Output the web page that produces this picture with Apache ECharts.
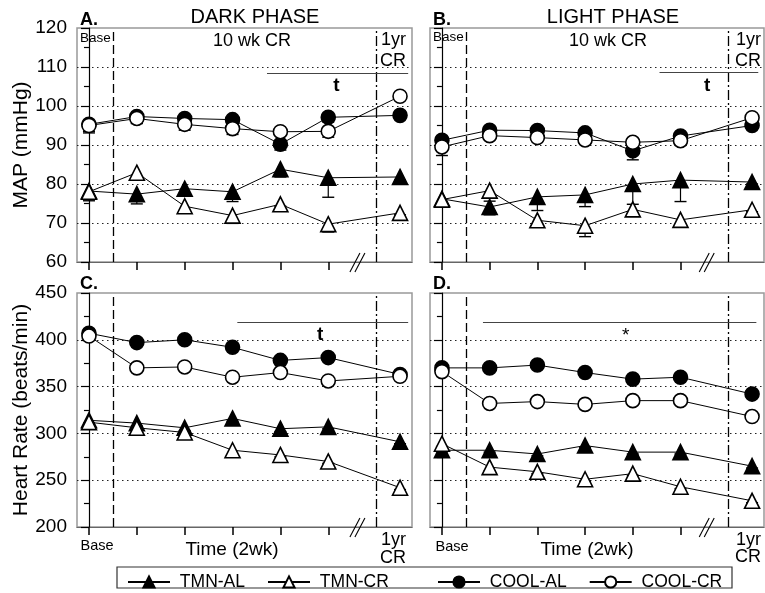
<!DOCTYPE html>
<html>
<head>
<meta charset="utf-8">
<script src="https://cdn.jsdelivr.net/npm/echarts@6/dist/echarts.min.js"></script>
<style>
html,body{margin:0;padding:0;background:#fff;}
#chart{width:765px;height:593px;}
</style>
</head>
<body>
<div id="chart"></div>
<script>
var FONT = '"Liberation Sans", Arial, Helvetica, sans-serif';

// x positions: base, 5 biweekly points, 1yr
var xPos = [0, 1, 2, 3, 4, 5, 6.5];
var tickPos = [0, 1, 2, 3, 4, 5];
var seriesNames = ['TMN-AL', 'TMN-CR', 'COOL-AL', 'COOL-CR'];

// A. MAP dark phase
var mapDarkTmnAl = [78.2, 77.4, 78.8, 78.0, 83.8, 81.6, 81.8];
var mapDarkTmnAlErr = [2.5, 2.5, 1.2, 2.5, 2.0, 5.0, 0.8];
var mapDarkTmnCr = [78.0, 82.9, 74.3, 71.9, 74.8, 69.7, 72.6];
var mapDarkTmnCrErr = [1.5, 1.5, 1.5, 2.0, 0.5, 2.0, 0.5];
var mapDarkCoolAl = [95.3, 97.3, 96.8, 96.5, 90.2, 97.1, 97.6];
var mapDarkCoolAlErr = [2.2, 1.8, 1.5, 1.5, 1.5, 1.2, 1.0];
var mapDarkCoolCr = [95.0, 96.8, 95.3, 94.2, 93.4, 93.5, 102.5];
var mapDarkCoolCrErr = [1.5, 1.2, 1.5, 1.5, 0.5, 1.5, 0.5];

// B. MAP light phase
var mapLightTmnAl = [76.2, 74.1, 76.7, 77.2, 80.0, 81.0, 80.5];
var mapLightTmnAlErr = [2.0, 2.0, 3.5, 3.0, 5.2, 5.5, 0.5];
var mapLightTmnCr = [76.0, 78.3, 70.7, 69.3, 73.5, 70.8, 73.4];
var mapLightTmnCrErr = [1.0, 2.7, 1.0, 2.8, 1.0, 1.5, 0.5];
var mapLightCoolAl = [91.2, 93.8, 93.7, 93.1, 88.5, 92.3, 95.0];
var mapLightCoolAlErr = [1.0, 1.0, 1.0, 1.0, 2.3, 1.0, 0.5];
var mapLightCoolCr = [89.5, 92.4, 91.9, 91.3, 90.7, 91.1, 97.0];
var mapLightCoolCrErr = [2.2, 1.0, 1.0, 1.0, 0.5, 1.2, 0.5];

// C. heart rate dark phase
var hrDarkTmnAl = [314, 311, 306, 316, 305, 307, 291];
var hrDarkTmnAlErr = [3, 3, 3, 3, 3, 2, 2];
var hrDarkTmnCr = [312, 306, 301, 282, 277, 270, 242];
var hrDarkTmnCrErr = [3, 3, 7, 5, 2, 2, 2];
var hrDarkCoolAl = [407, 397, 400, 392, 378, 381, 363];
var hrDarkCoolAlErr = [3, 3, 3, 3, 3, 2, 2];
var hrDarkCoolCr = [404, 370, 371, 360, 365, 356, 361];
var hrDarkCoolCrErr = [2, 3, 4, 2, 3, 2, 2];

// D. heart rate light phase
var hrLightTmnAl = [282, 282, 278, 287, 280, 280, 265];
var hrLightTmnAlErr = [3, 2, 2, 2, 2, 2, 2];
var hrLightTmnCr = [289, 264, 259, 251, 257, 243, 228];
var hrLightTmnCrErr = [3, 4, 2, 2, 2, 2, 2];
var hrLightCoolAl = [370, 370, 373, 365, 358, 360, 342];
var hrLightCoolAlErr = [3, 3, 3, 3, 2, 2, 2];
var hrLightCoolCr = [366, 332, 334, 331, 335, 335, 318];
var hrLightCoolCrErr = [3, 2, 2, 2, 2, 2, 2];

var chart = echarts.init(document.getElementById('chart'));

var grids = [
    {left: 77, top: 28, width: 335, height: 234},
    {left: 430, top: 28, width: 334, height: 234},
    {left: 77, top: 293, width: 335, height: 234},
    {left: 430, top: 293, width: 334, height: 234}
];

function pts(vals) {
    return xPos.map(function (x, i) { return [x, vals[i]]; });
}

function errSeries(gi, vals, errs) {
    return {
        type: 'custom', xAxisIndex: gi, yAxisIndex: gi, silent: true, z: 1,
        data: xPos.map(function (x, i) { return [x, vals[i], vals[i] - errs[i]]; }),
        renderItem: function (params, api) {
            var top = api.coord([api.value(0), api.value(1)]);
            var bot = api.coord([api.value(0), api.value(2)]);
            return {
                type: 'group',
                children: [
                    {type: 'line', shape: {x1: top[0], y1: top[1], x2: bot[0], y2: bot[1]}, style: {stroke: '#000', lineWidth: 1.2}},
                    {type: 'line', shape: {x1: bot[0] - 6, y1: bot[1], x2: bot[0] + 6, y2: bot[1]}, style: {stroke: '#000', lineWidth: 1.4}}
                ]
            };
        }
    };
}

// axis break "//" drawn around a point on the bottom axis
function breakSeries(gi, bx, by) {
    return {
        type: 'custom', xAxisIndex: gi, yAxisIndex: gi, silent: true, z: 4, clip: false,
        data: [[bx, by]],
        renderItem: function (params, api) {
            var p = api.coord([api.value(0), api.value(1)]);
            return {
                type: 'group',
                children: [
                    {type: 'line', shape: {x1: p[0] - 8, y1: p[1] + 10, x2: p[0] + 2, y2: p[1] - 9}, style: {stroke: '#000', lineWidth: 1.1}},
                    {type: 'line', shape: {x1: p[0] - 3, y1: p[1] + 10, x2: p[0] + 7, y2: p[1] - 9}, style: {stroke: '#000', lineWidth: 1.1}}
                ]
            };
        }
    };
}

function lineSeries(gi, name, vals, sym, filled) {
    return {
        type: 'line', name: name, xAxisIndex: gi, yAxisIndex: gi, z: 3,
        data: pts(vals),
        symbol: sym, symbolSize: sym === 'triangle' ? 15 : 14,
        showAllSymbol: true,
        lineStyle: {color: '#000', width: 1},
        itemStyle: {color: filled ? '#000' : '#fff', borderColor: '#000', borderWidth: 1.6},
        emphasis: {disabled: true},
        animation: false
    };
}

// dashed / dash-dot phase dividers, significance bars, labels
function decor(sigFrom, sigTo, sigY, mark, markX, markY, markBold) {
    return {
        type: 'line', data: [], silent: true, z: 2,
        markLine: {
            symbol: ['none', 'none'], silent: true, animation: false,
            label: {show: false},
            data: [
                {xAxis: 0.5, lineStyle: {type: [9, 4], color: '#000', width: 1.3}},
                {xAxis: 6, lineStyle: {type: [10, 3, 2, 3], color: '#000', width: 1.3}},
                [{coord: [sigFrom, sigY], lineStyle: {type: 'solid', color: '#444', width: 1}}, {coord: [sigTo, sigY]}]
            ]
        },
        markPoint: {
            symbol: 'circle', symbolSize: 0, silent: true, animation: false,
            data: [
                {coord: [markX, markY], label: {show: true, formatter: mark, position: 'inside', fontSize: 19, fontWeight: markBold ? 'bold' : 'normal', color: '#000', fontFamily: FONT}}
            ]
        }
    };
}

var xAxes = grids.map(function (g, i) {
    return {
        type: 'value', gridIndex: i, min: -0.25, max: 6.75,
        axisLine: {show: true, lineStyle: {color: '#666', width: 1.2}},
        axisTick: {show: true, customValues: tickPos, length: 8, lineStyle: {color: '#000', width: 1.5}},
        axisLabel: {show: false},
        splitLine: {show: false}
    };
});

var yAxes = grids.map(function (g, i) {
    var isMap = i < 2;
    var ax = {
        type: 'value', gridIndex: i,
        min: isMap ? 60 : 200, max: isMap ? 120 : 450, interval: isMap ? 10 : 50,
        axisLine: {show: true, lineStyle: {color: '#000', width: 1.2}},
        axisTick: {show: true, length: 8, lineStyle: {color: '#000', width: 1.2}},
        minorTick: {show: true, splitNumber: 2, length: 5, lineStyle: {color: '#000', width: 1.2}},
        axisLabel: {show: i % 2 === 0, fontSize: 19, color: '#000', margin: 10, fontFamily: FONT},
        splitLine: {show: true, showMinLine: false, showMaxLine: false, lineStyle: {type: [1.5, 3.5], color: '#222', width: 1}}
    };
    if (i % 2 === 0) {
        ax.name = isMap ? 'MAP (mmHg)' : 'Heart Rate (beats/min)';
        ax.nameLocation = 'middle';
        ax.nameGap = 41;
        ax.nameTextStyle = {fontSize: 21, color: '#000', fontFamily: FONT};
    }
    return ax;
});

var panels = [
    [mapDarkTmnAl, mapDarkTmnAlErr, mapDarkTmnCr, mapDarkTmnCrErr, mapDarkCoolAl, mapDarkCoolAlErr, mapDarkCoolCr, mapDarkCoolCrErr],
    [mapLightTmnAl, mapLightTmnAlErr, mapLightTmnCr, mapLightTmnCrErr, mapLightCoolAl, mapLightCoolAlErr, mapLightCoolCr, mapLightCoolCrErr],
    [hrDarkTmnAl, hrDarkTmnAlErr, hrDarkTmnCr, hrDarkTmnCrErr, hrDarkCoolAl, hrDarkCoolAlErr, hrDarkCoolCr, hrDarkCoolCrErr],
    [hrLightTmnAl, hrLightTmnAlErr, hrLightTmnCr, hrLightTmnCrErr, hrLightCoolAl, hrLightCoolAlErr, hrLightCoolCr, hrLightCoolCrErr]
];
var decors = [
    decor(3.72, 6.67, 108.5, 't', 5.17, 105.3, true),
    decor(4.56, 6.63, 108.7, 't', 5.56, 105.3, true),
    decor(3.1, 6.67, 419, 't', 4.83, 405, true),
    decor(0.86, 6.59, 419, '*', 3.85, 404, false)
];
var breaks = [[5.62, 60], [5.56, 60], [5.62, 200], [5.56, 200]];

var series = [];
panels.forEach(function (p, gi) {
    series.push(errSeries(gi, p[0], p[1]));
    series.push(errSeries(gi, p[2], p[3]));
    series.push(errSeries(gi, p[4], p[5]));
    series.push(errSeries(gi, p[6], p[7]));
    series.push(lineSeries(gi, 'TMN-AL', p[0], 'triangle', true));
    series.push(lineSeries(gi, 'TMN-CR', p[2], 'triangle', false));
    series.push(lineSeries(gi, 'COOL-AL', p[4], 'circle', true));
    series.push(lineSeries(gi, 'COOL-CR', p[6], 'circle', false));
    var d = decors[gi];
    d.xAxisIndex = gi;
    d.yAxisIndex = gi;
    series.push(d);
    series.push(breakSeries(gi, breaks[gi][0], breaks[gi][1]));
});

function txt(x, y, s, size, opts) {
    opts = opts || {};
    return {
        type: 'text', x: x, y: y, silent: true,
        style: {
            text: s, fontSize: size, fontFamily: FONT, fill: '#000',
            fontWeight: opts.bold ? 'bold' : 'normal',
            align: opts.align || 'left', verticalAlign: 'middle'
        }
    };
}

var legendCommon = {
    top: 568, itemWidth: 42, itemHeight: 14, itemGap: 22,
    textStyle: {fontSize: 17.5, color: '#000', fontFamily: FONT},
    formatter: function (n) { return ' ' + n; },
    selectedMode: false
};

var option = {
    animation: false,
    backgroundColor: '#fff',
    grid: grids.map(function (g) {
        return {left: g.left, top: g.top, width: g.width, height: g.height, show: true, borderColor: '#999', borderWidth: 1.5, containLabel: false};
    }),
    xAxis: xAxes,
    yAxis: yAxes,
    legend: [
        echarts.util.extend({left: 122, data: ['TMN-AL', 'TMN-CR']}, legendCommon),
        echarts.util.extend({left: 432, data: ['COOL-AL', 'COOL-CR']}, legendCommon)
    ],
    graphic: [
        {type: 'rect', shape: {x: 117, y: 567, width: 615, height: 21}, style: {fill: 'none', stroke: '#333', lineWidth: 1.2}, silent: true},
        txt(80, 20, 'A.', 18, {bold: true}),
        txt(255, 17, 'DARK PHASE', 20, {align: 'center'}),
        txt(433, 20, 'B.', 18, {bold: true}),
        txt(613, 17, 'LIGHT PHASE', 20, {align: 'center'}),
        txt(80, 284, 'C.', 18, {bold: true}),
        txt(433, 284, 'D.', 18, {bold: true}),
        txt(80, 38, 'Base', 13.5),
        txt(252, 41, '10 wk CR', 18, {align: 'center'}),
        txt(381, 40, '1yr', 18),
        txt(380, 61, 'CR', 18),
        txt(433, 37, 'Base', 13.5),
        txt(608, 41, '10 wk CR', 18, {align: 'center'}),
        txt(736, 40, '1yr', 18),
        txt(735, 61, 'CR', 18),
        txt(97, 546, 'Base', 14.5, {align: 'center'}),
        txt(232, 550, 'Time (2wk)', 19, {align: 'center'}),
        txt(381, 540, '1yr', 18),
        txt(380, 558, 'CR', 18),
        txt(452, 547, 'Base', 14.5, {align: 'center'}),
        txt(587, 550, 'Time (2wk)', 19, {align: 'center'}),
        txt(736, 540, '1yr', 18),
        txt(735, 557, 'CR', 18)
    ],
    series: series
};

chart.setOption(option);
</script>
</body>
</html>
